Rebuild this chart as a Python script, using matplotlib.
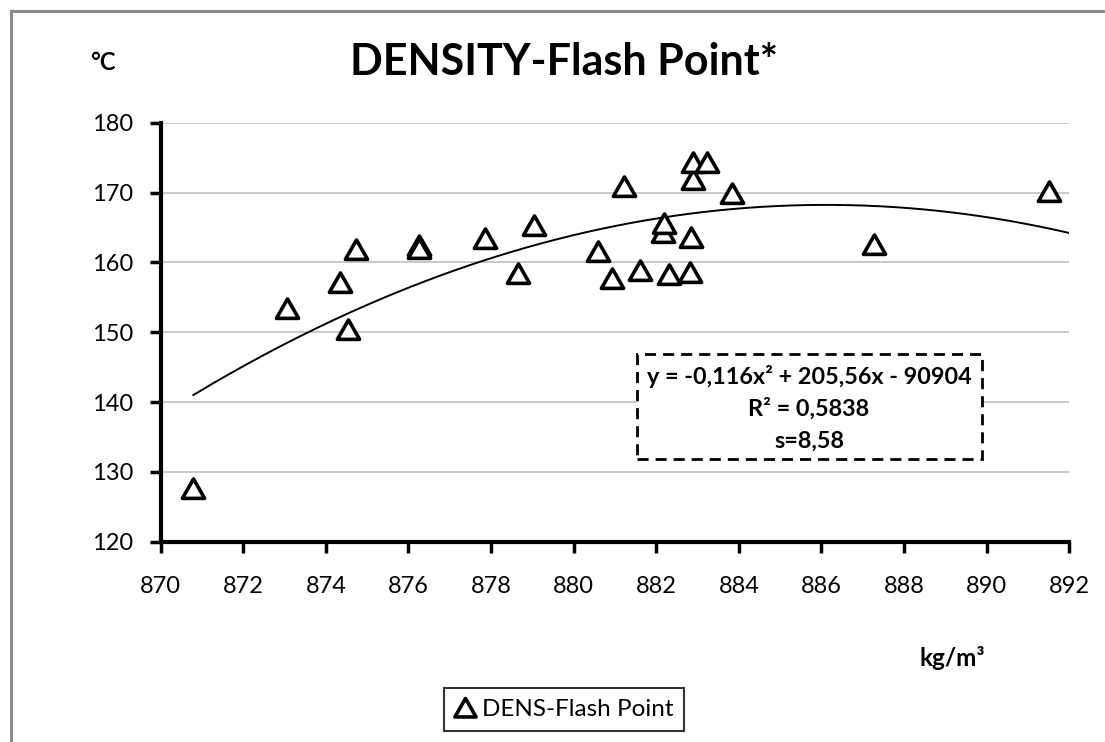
import numpy as np
import matplotlib
matplotlib.use("Agg")
import matplotlib.pyplot as plt
from matplotlib.lines import Line2D
from matplotlib.patches import FancyBboxPatch
from matplotlib.path import Path

# Density (kg/m³) vs flash point (°C) samples
density = [870.79, 873.07, 874.34, 874.53, 874.74, 876.25, 876.25, 877.86,
           878.65, 879.03, 880.58, 880.93, 881.21, 881.60, 882.16, 882.18,
           882.30, 882.81, 882.84, 882.89, 882.89, 883.23, 883.83, 887.28,
           891.50]
flash_point = [127.6, 153.3, 157.0, 150.3, 161.8, 162.3, 161.9, 163.3,
               158.3, 165.2, 161.5, 157.6, 170.8, 158.8, 164.2, 165.5,
               158.2, 158.5, 163.5, 171.8, 174.3, 174.3, 169.8, 162.5,
               170.1]

x_ticks = [870, 872, 874, 876, 878, 880, 882, 884, 886, 888, 890, 892]
y_ticks = [120, 130, 140, 150, 160, 170, 180]

title = "DENSITY-Flash Point*"
series_name = "DENS-Flash Point"
eq_lines = ["y = -0,116x² + 205,56x - 90904", "R² = 0,5838", "s=8,58"]

plt.rcParams["font.family"] = ["Lato", "DejaVu Sans"]

fig = plt.figure(figsize=(11.05, 7.42), dpi=100)
W, H = 1105, 742
ax = fig.add_axes([160.7 / W, 1 - 541.7 / H, (1069.3 - 160.7) / W, (541.7 - 122.7) / H])

# Second-order polynomial trend
coef = np.polyfit(density, flash_point, 2)
xs = np.linspace(min(density), 892, 300)
ax.plot(xs, np.polyval(coef, xs), color="black", lw=1.4, zorder=2)

# Open triangle marker
tri = Path([(-1.0, -0.8), (1.0, -0.8), (0.0, 0.95), (-1.0, -0.8)],
           [Path.MOVETO, Path.LINETO, Path.LINETO, Path.CLOSEPOLY])
ax.plot(density, flash_point, linestyle="none", marker=tri, ms=16,
        mfc="white", mec="black", mew=2.6, zorder=3, label=series_name)

ax.set_xlim(870, 892)
ax.set_ylim(120, 180)
ax.set_xticks(x_ticks)
ax.set_yticks(y_ticks)
ax.tick_params(axis="both", direction="out", length=8, width=2.5,
               labelsize=17, color="black")
ax.tick_params(axis="x", pad=17)
ax.tick_params(axis="y", pad=12)
ax.grid(axis="y", color="#c4c4c4", lw=1.3)
ax.set_axisbelow(True)
for side in ("top", "right"):
    ax.spines[side].set_visible(False)
for side in ("left", "bottom"):
    ax.spines[side].set_linewidth(3)
    ax.spines[side].set_color("black")

# Titles and axis units
fig.text(564 / W, 1 - 62 / H, title, ha="center", va="center",
         fontsize=31, fontweight="bold")
fig.text(103 / W, 1 - 63 / H, "°C", ha="center", va="center",
         fontsize=17, fontweight="bold")
fig.text(952 / W, 1 - 658 / H, "kg/m³", ha="center", va="center",
         fontsize=17.5, fontweight="bold")

# Equation box
box = FancyBboxPatch((636.7 / W, 1 - 459 / H), (981.7 - 636.7) / W, (459 - 354) / H,
                     boxstyle="square,pad=0", transform=fig.transFigure,
                     fill=True, fc="white", ec="black", lw=2, ls=(0, (4, 2.5)),
                     zorder=5)
fig.patches.append(box)
for yy, txt in zip([376.7, 409, 441.7], eq_lines):
    fig.text(809 / W, 1 - yy / H, txt, ha="center", va="center",
             fontsize=16.8, fontweight="bold", zorder=6)

# Legend
leg = fig.legend(loc="center", bbox_to_anchor=(564 / W, 1 - 709.5 / H),
                 fontsize=17.5, frameon=True, fancybox=False, edgecolor="black",
                 handlelength=0.8, handletextpad=0.3, borderpad=0.45,
                 borderaxespad=0, markerscale=0.95)
leg.get_frame().set_linewidth(1.5)

# Outer chart border (left and top edges)
fig.add_artist(Line2D([11 / W, 11 / W], [0, 1 - 11 / H], color="#8c8c8c", lw=2.2,
                      transform=fig.transFigure))
fig.add_artist(Line2D([11 / W, 1], [1 - 11 / H, 1 - 11 / H], color="#8c8c8c", lw=2.2,
                      transform=fig.transFigure))

fig.savefig("out.png", dpi=100)
